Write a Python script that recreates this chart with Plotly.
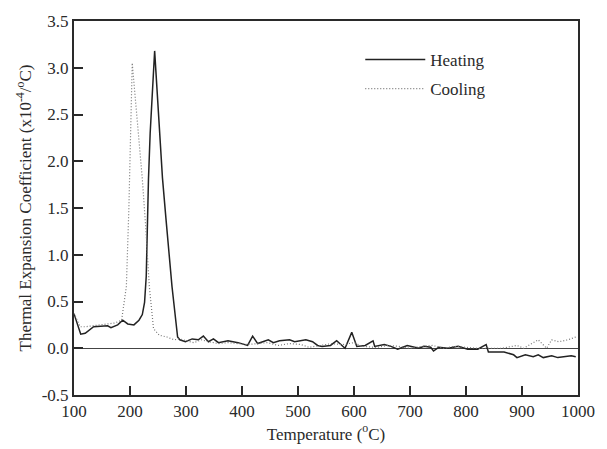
import plotly.graph_objects as go

# ---------------- data ----------------
heat_t = [100, 112, 120, 135, 160, 166, 178, 187, 196, 207, 216, 222, 226, 229, 233, 236,
          244, 251, 258, 264, 270, 275, 285, 289, 299, 311, 322, 331, 340, 349, 358, 375,
          393, 410, 419, 428, 447, 456, 467, 485, 494, 514, 526, 535, 543, 558, 569, 584,
          596, 605, 620, 634, 637, 654, 666, 678, 695, 707, 716, 725, 737, 742, 751, 768,
          786, 803, 821, 830, 836, 840, 859, 868, 885, 891, 906, 920, 929, 938, 953, 964,
          988, 996]
heat_v = [0.37, 0.15, 0.16, 0.23, 0.24, 0.22, 0.25, 0.30, 0.26, 0.25, 0.30, 0.36, 0.49, 0.77, 1.81, 2.30,
          3.18, 2.45, 1.82, 1.40, 1.00, 0.66, 0.12, 0.09, 0.07, 0.10, 0.09, 0.13, 0.07, 0.10, 0.06, 0.08,
          0.06, 0.03, 0.13, 0.05, 0.09, 0.06, 0.08, 0.09, 0.07, 0.09, 0.07, 0.03, 0.02, 0.03, 0.08, 0.00,
          0.17, 0.02, 0.03, 0.08, 0.02, 0.04, 0.02, -0.01, 0.03, 0.01, 0.00, 0.02, 0.01, -0.03, 0.01, 0.00,
          0.02, -0.01, -0.01, 0.02, 0.04, -0.04, -0.04, -0.04, -0.07, -0.10, -0.07, -0.09, -0.07, -0.10, -0.08, -0.10,
          -0.08, -0.09]

cool_t = [100, 111, 120, 135, 149, 173, 185, 189.5, 193.5, 198, 204, 212, 222, 228, 234.5, 242,
          252, 266, 279, 288, 300, 314, 328, 340, 358, 375, 393, 410, 428, 445, 465, 485,
          505, 520, 540, 560, 580, 600, 615, 640, 660, 680, 700, 720, 740, 760, 780, 800,
          820, 841, 864, 882, 891, 903, 917, 929, 944, 953, 966, 982, 996]
cool_v = [0.37, 0.23, 0.23, 0.24, 0.25, 0.27, 0.30, 0.49, 0.66, 1.50, 3.05, 2.50, 1.81, 1.30, 0.66, 0.21,
          0.14, 0.12, 0.09, 0.10, 0.08, 0.06, 0.09, 0.07, 0.05, 0.06, 0.05, 0.04, 0.05, 0.06, 0.03, 0.05,
          0.04, 0.01, 0.03, 0.05, 0.04, 0.06, 0.02, 0.01, 0.03, 0.02, 0.00, 0.02, 0.03, 0.00, 0.02, 0.01,
          0.00, 0.00, 0.00, 0.02, 0.03, 0.00, 0.05, 0.09, 0.00, 0.09, 0.07, 0.09, 0.12]

x_ticks = [100, 200, 300, 400, 500, 600, 700, 800, 900, 1000]
y_ticks = [-0.5, 0.0, 0.5, 1.0, 1.5, 2.0, 2.5, 3.0, 3.5]
y_tick_text = ["-0.5", "0.0", "0.5", "1.0", "1.5", "2.0", "2.5", "3.0", "3.5"]

FONT = "Liberation Serif, Times New Roman, serif"
INK = "#2a2a2a"

fig = go.Figure()
fig.add_trace(go.Scatter(x=heat_t, y=heat_v, mode="lines", name="Heating",
                         legendgroup="h",
                         line=dict(color="#222222", width=1.5)))
fig.add_trace(go.Scatter(x=cool_t, y=cool_v, mode="lines", name="Cooling",
                         legendgroup="c",
                         line=dict(color="#777777", width=1.2, dash="1px,2px")))

fig.update_layout(
    width=607, height=449,
    margin=dict(l=74, r=21, t=19, b=47),
    paper_bgcolor="white", plot_bgcolor="white",
    font=dict(family=FONT, size=17, color=INK),
    showlegend=True,
    legend=dict(x=0.568, y=0.944, xanchor="left", yanchor="top",
                bgcolor="rgba(0,0,0,0)", font=dict(family=FONT, size=17, color=INK),
                tracegroupgap=4, itemwidth=60),
)
fig.update_xaxes(range=[100, 1000], tickvals=x_ticks, ticktext=[str(v) for v in x_ticks],
                 showline=True, linecolor=INK, linewidth=2, mirror=True,
                 ticks="inside", ticklen=9, tickwidth=2, tickcolor=INK,
                 showgrid=False, zeroline=False,
                 tickfont=dict(family=FONT, size=17, color=INK),
                 title=dict(text="Temperature (<sup>o</sup>C)", standoff=4,
                            font=dict(family=FONT, size=17, color=INK)))
fig.update_yaxes(range=[-0.5, 3.5], tickvals=y_ticks, ticktext=y_tick_text,
                 showline=True, linecolor=INK, linewidth=2, mirror=True,
                 ticks="inside", ticklen=9, tickwidth=2, tickcolor=INK,
                 showgrid=False, zeroline=True, zerolinecolor="#444444", zerolinewidth=1,
                 tickfont=dict(family=FONT, size=17, color=INK),
                 title=dict(text="Thermal Expansion Coefficient (x10<sup>-4</sup>/<sup>o</sup>C)", standoff=6,
                            font=dict(family=FONT, size=17, color=INK)))

fig.write_html("out.html",
               config={"displayModeBar": False},
               post_script="document.body.style.margin='0';document.body.style.overflow='hidden';")
